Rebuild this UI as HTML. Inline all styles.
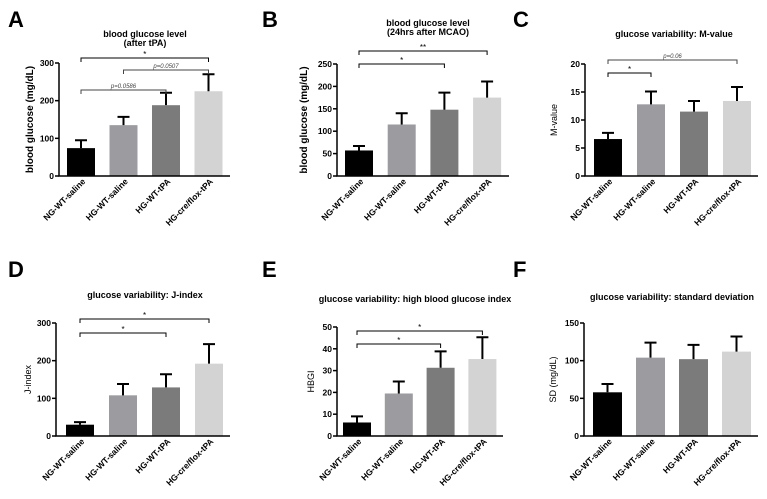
<!DOCTYPE html>
<html><head><meta charset="utf-8"><style>
body{margin:0;background:#fff;}
svg{display:block;font-family:"Liberation Sans",Arial,sans-serif;}
</style></head><body>
<svg id="fig" width="767" height="499" viewBox="0 0 767 499" xmlns="http://www.w3.org/2000/svg"></svg>
<script>
const categories = ["NG-WT-saline","HG-WT-saline","HG-WT-tPA","HG-cre/flox-tPA"];
const colors = ["#000000","#9c9ca0","#7b7b7b","#d3d3d3"];
const valuesA = [74,135,188,225];
const errorsA = [21,22,33,45];
const ticksA = [0,100,200,300];
const valuesB = [57,115,148,175];
const errorsB = [10,25,38,36];
const ticksB = [0,50,100,150,200,250];
const valuesC = [6.6,12.8,11.5,13.4];
const errorsC = [1.1,2.3,1.9,2.5];
const ticksC = [0,5,10,15,20];
const valuesD = [30,108,129,192];
const errorsD = [7,30,35,52];
const ticksD = [0,100,200,300];
const valuesE = [6.2,19.5,31.3,35.3];
const errorsE = [2.8,5.5,7.5,10];
const ticksE = [0,10,20,30,40,50];
const valuesF = [58,104,102,112];
const errorsF = [11,20,19,20];
const ticksF = [0,50,100,150];

const NS="http://www.w3.org/2000/svg";
const svg=document.getElementById('fig');
function mk(tag,attrs,parent,text){
  const e=document.createElementNS(NS,tag);
  for(const k in attrs)e.setAttribute(k,attrs[k]);
  if(text!==undefined)e.textContent=text;
  (parent||svg).appendChild(e);return e;
}
const panels=[
 {id:'a',letter:'A',lx:8,ly:27,ax:59,top:63,bot:176,x0:67,step:42.5,bw:28,xend:230,
  values:valuesA,errors:errorsA,ticks:ticksA,ylabel:'blood glucose (mg/dL)',ylBold:true,ylx:33,yfs:10,
  title:['blood glucose level','(after tPA)'],tx:145,ty:[37,46],
  brackets:[{a:0,b:3,y:58,t:'*',star:true},{a:1,b:3,y:70,t:'p=0.0507'},{a:0,b:2,y:90,t:'p=0.0586'}]},
 {id:'b',letter:'B',lx:262,ly:27,ax:337,top:64,bot:176,x0:345,step:42.7,bw:28,xend:509,
  values:valuesB,errors:errorsB,ticks:ticksB,ylabel:'blood glucose (mg/dL)',ylBold:true,ylx:307,yfs:10,
  title:['blood glucose level','(24hrs after MCAO)'],tx:428,ty:[26,35],
  brackets:[{a:0,b:3,y:51,t:'**',star:true},{a:0,b:2,y:64,t:'*',star:true}]},
 {id:'c',letter:'C',lx:513,ly:27,ax:585,top:64,bot:176,x0:594,step:43,bw:28,xend:758,
  values:valuesC,errors:errorsC,ticks:ticksC,ylabel:'M-value',ylBold:false,ylx:557,yfs:9,
  title:['glucose variability: M-value'],tx:674,ty:[37],
  brackets:[{a:0,b:3,y:60,t:'p=0.06'},{a:0,b:1,y:73,t:'*',star:true}]},
 {id:'d',letter:'D',lx:8,ly:277,ax:56,top:323,bot:436,x0:66,step:43,bw:28,xend:230,
  values:valuesD,errors:errorsD,ticks:ticksD,ylabel:'J-index',ylBold:false,ylx:31,yfs:9,
  title:['glucose variability: J-index'],tx:145,ty:[298],
  brackets:[{a:0,b:3,y:319,t:'*',star:true},{a:0,b:2,y:333,t:'*',star:true}]},
 {id:'e',letter:'E',lx:262,ly:277,ax:337,top:327,bot:436,x0:343,step:41.8,bw:28,xend:503,
  values:valuesE,errors:errorsE,ticks:ticksE,ylabel:'HBGI',ylBold:false,ylx:314,yfs:9,
  title:['glucose variability: high blood glucose index'],tx:415,ty:[302],
  brackets:[{a:0,b:3,y:331,t:'*',star:true},{a:0,b:2,y:344,t:'*',star:true}]},
 {id:'f',letter:'F',lx:513,ly:277,ax:584,top:323,bot:436,x0:593,step:43,bw:29,xend:758,
  values:valuesF,errors:errorsF,ticks:ticksF,ylabel:'SD (mg/dL)',ylBold:false,ylx:556,yfs:9,
  title:['glucose variability: standard deviation'],tx:672,ty:[300],
  brackets:[]}
];
panels.forEach(p=>{
  const g=mk('g',{});
  
  
  const max=p.ticks[p.ticks.length-1];
  const y=v=>p.bot-(v/max)*(p.bot-p.top);
  const xc=i=>p.x0+i*p.step+p.bw/2;
  const L=mk('text',{x:p.lx,y:p.ly,'font-size':22,'font-weight':'bold'},g,p.letter);
  
  
  p.title.forEach((t,k)=>{
    const T=mk('text',{x:p.tx,y:p.ty[k],'font-size':9,'font-weight':'bold','text-anchor':'middle'},g,t);
    
    
  });
  p.values.forEach((v,i)=>{
    const x=p.x0+i*p.step;
    const r=mk('rect',{x:x,y:y(v),width:p.bw,height:p.bot-y(v),fill:colors[i]},g);
    
    
    const ey=y(v+p.errors[i]);
    const e=mk('path',{d:`M${xc(i)} ${y(v)}V${ey}M${xc(i)-6} ${ey}H${xc(i)+6}`,stroke:'#000','stroke-width':2,fill:'none'},g);
    
    
    const lx=xc(i)+5, ly=p.bot+6;
    const t=mk('text',{x:lx,y:ly,'font-size':8.5,'font-weight':'bold','text-anchor':'end',transform:`rotate(-45 ${lx} ${ly})`},g,categories[i]);
    
    
  });
  const ax=mk('path',{d:`M${p.ax} ${p.top}V${p.bot}H${p.xend}`,stroke:'#000','stroke-width':1.5,fill:'none'},g);
  
  
  p.ticks.forEach(t=>{
    mk('line',{x1:p.ax-4,x2:p.ax,y1:y(t),y2:y(t),stroke:'#000','stroke-width':1.5},g);
    const tl=mk('text',{x:p.ax-5,y:y(t)+3,'font-size':8.5,'font-weight':'bold','text-anchor':'end'},g,String(t));
    
    
  });
  const cy=(p.top+p.bot)/2;
  const yl=mk('text',{x:p.ylx,y:cy,'font-size':p.yfs,'font-weight':p.ylBold?'bold':'normal','text-anchor':'middle',transform:`rotate(-90 ${p.ylx} ${cy})`},g,p.ylabel);
  
  
  p.brackets.forEach(b=>{
    const x1=xc(b.a),x2=xc(b.b);
    const br=mk('path',{d:`M${x1} ${b.y+4}V${b.y}H${x2}V${b.y+4}`,stroke:b.star?'#000':'#444','stroke-width':1,fill:'none'},g);
    
    
    const bt=mk('text',{x:(x1+x2)/2,y:b.star?b.y-1:b.y-2,'font-size':b.star?8:6,'font-style':b.star?'normal':'italic','text-anchor':'middle',fill:b.star?'#000':'#444'},g,b.t);
    
    
  });
});
</script>
</body></html>
